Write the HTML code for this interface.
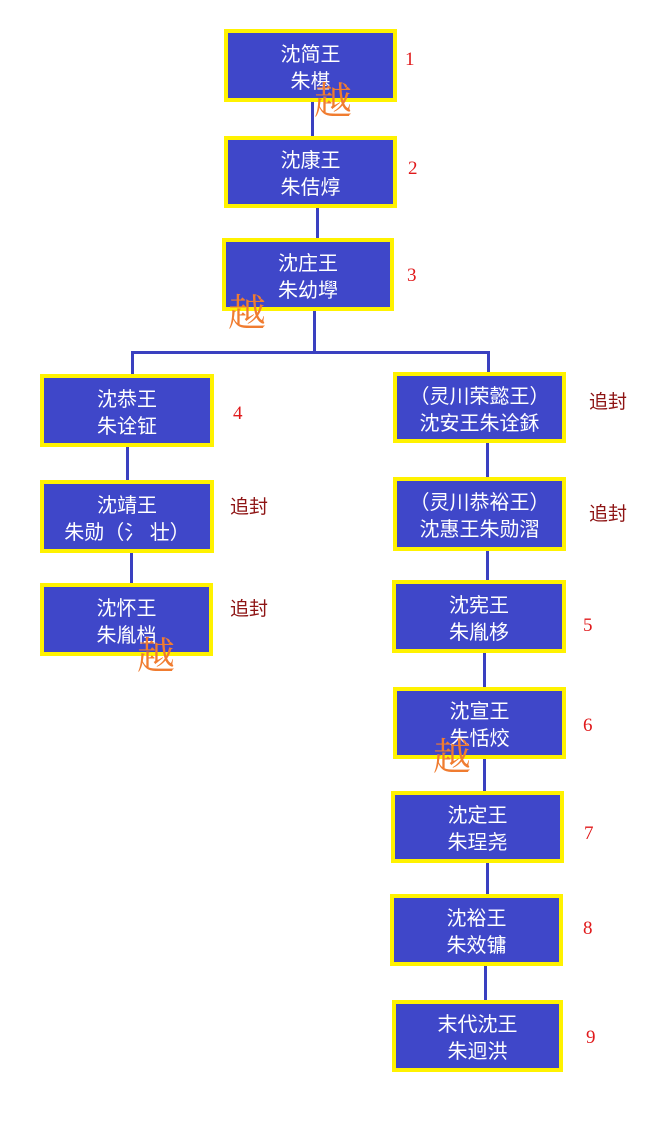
<!DOCTYPE html>
<html><head><meta charset="utf-8"><style>
html,body{margin:0;padding:0;background:#fff;}
body{width:660px;height:1138px;position:relative;overflow:hidden;font-family:"Liberation Sans","Noto Sans CJK SC",sans-serif;}
.b{position:absolute;box-sizing:border-box;background:#3f47c9;border:4px solid #fff200;color:#fff;display:flex;flex-direction:column;align-items:center;justify-content:center;font-size:20px;line-height:27px;padding-top:6px;text-align:center;white-space:nowrap;}
.l{position:absolute;background:#3a40c0;}
.n{position:absolute;color:#e0191b;font-family:"Liberation Serif","Noto Serif CJK SC",serif;font-size:19px;line-height:19px;}
.z{position:absolute;color:#8e1414;font-size:19px;line-height:19px;white-space:nowrap;}
.y{position:absolute;color:#f07c30;font-family:"Noto Serif CJK SC",serif;font-size:38px;line-height:38px;}
</style></head><body>

<!-- connectors -->
<div class="l" style="left:311px;top:100px;width:3px;height:38px"></div>
<div class="l" style="left:316px;top:206px;width:3px;height:34px"></div>
<div class="l" style="left:313px;top:309px;width:3px;height:44px"></div>
<div class="l" style="left:131px;top:351px;width:358px;height:3px"></div>
<div class="l" style="left:131px;top:351px;width:3px;height:25px"></div>
<div class="l" style="left:487px;top:351px;width:3px;height:23px"></div>
<div class="l" style="left:126px;top:445px;width:3px;height:37px"></div>
<div class="l" style="left:130px;top:551px;width:3px;height:34px"></div>
<div class="l" style="left:486px;top:441px;width:3px;height:38px"></div>
<div class="l" style="left:486px;top:549px;width:3px;height:33px"></div>
<div class="l" style="left:483px;top:651px;width:3px;height:38px"></div>
<div class="l" style="left:483px;top:757px;width:3px;height:36px"></div>
<div class="l" style="left:486px;top:861px;width:3px;height:35px"></div>
<div class="l" style="left:484px;top:964px;width:3px;height:38px"></div>

<!-- boxes -->
<div class="b" style="left:224px;top:29px;width:173px;height:73px"><div>沈简王</div><div>朱樭</div></div>
<div class="b" style="left:224px;top:136px;width:173px;height:72px"><div>沈康王</div><div>朱佶焞</div></div>
<div class="b" style="left:222px;top:238px;width:172px;height:73px"><div>沈庄王</div><div>朱幼㙾</div></div>

<div class="b" style="left:40px;top:374px;width:174px;height:73px"><div>沈恭王</div><div>朱诠钲</div></div>
<div class="b" style="left:40px;top:480px;width:174px;height:73px"><div>沈靖王</div><div>朱勋（氵 壮）</div></div>
<div class="b" style="left:40px;top:583px;width:173px;height:73px"><div>沈怀王</div><div>朱胤档</div></div>

<div class="b" style="left:393px;top:372px;width:173px;height:71px"><div>（灵川荣懿王）</div><div>沈安王朱诠鉌</div></div>
<div class="b" style="left:393px;top:477px;width:173px;height:74px"><div>（灵川恭裕王）</div><div>沈惠王朱勋漝</div></div>
<div class="b" style="left:392px;top:580px;width:174px;height:73px"><div>沈宪王</div><div>朱胤栘</div></div>
<div class="b" style="left:393px;top:687px;width:173px;height:72px"><div>沈宣王</div><div>朱恬烄</div></div>
<div class="b" style="left:391px;top:791px;width:173px;height:72px"><div>沈定王</div><div>朱珵尧</div></div>
<div class="b" style="left:390px;top:894px;width:173px;height:72px"><div>沈裕王</div><div>朱效镛</div></div>
<div class="b" style="left:392px;top:1000px;width:171px;height:72px"><div>末代沈王</div><div>朱迥洪</div></div>

<!-- numbers -->
<div class="n" style="left:405px;top:50px">1</div>
<div class="n" style="left:408px;top:159px">2</div>
<div class="n" style="left:407px;top:266px">3</div>
<div class="n" style="left:233px;top:404px">4</div>
<div class="n" style="left:583px;top:616px">5</div>
<div class="n" style="left:583px;top:716px">6</div>
<div class="n" style="left:584px;top:824px">7</div>
<div class="n" style="left:583px;top:919px">8</div>
<div class="n" style="left:586px;top:1028px">9</div>

<!-- 追封 -->
<div class="z" style="left:230px;top:498px">追封</div>
<div class="z" style="left:230px;top:600px">追封</div>
<div class="z" style="left:589px;top:393px">追封</div>
<div class="z" style="left:589px;top:505px">追封</div>

<!-- 越 -->
<div class="y" style="left:314px;top:79px">越</div>
<div class="y" style="left:228px;top:291px">越</div>
<div class="y" style="left:137px;top:634px">越</div>
<div class="y" style="left:433px;top:735px">越</div>

</body></html>
